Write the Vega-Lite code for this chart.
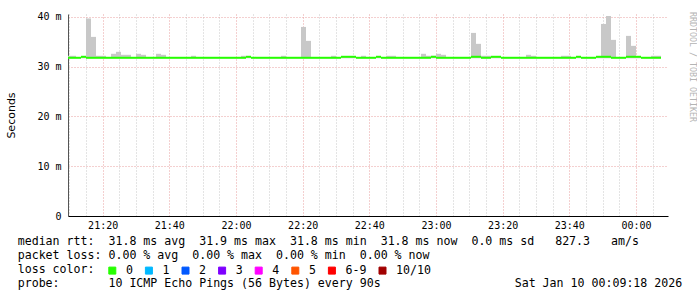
{
  "$schema": "https://vega.github.io/schema/vega-lite/v6.json",
  "width": 600,
  "height": 202,
  "padding": {"left": 5, "top": 11, "right": 0, "bottom": 0},
  "background": "white",
  "title": {"text": "RRDTOOL / TOBI OETIKER", "orient": "right", "anchor": "start", "offset": 6, "font": "DejaVu Sans Mono", "fontSize": 8.3, "fontWeight": "normal", "color": "#b4b4b4"},
  "datasets": {
    "steps": [
      {"t0":"2026-01-09T21:09:00","t1":"2026-01-09T21:10:30","med":31.8,"lo":31.7,"hi":32.2,"loss":"0"},
      {"t0":"2026-01-09T21:10:30","t1":"2026-01-09T21:12:00","med":31.8,"lo":31.7,"hi":32.2,"loss":"0"},
      {"t0":"2026-01-09T21:12:00","t1":"2026-01-09T21:13:30","med":31.8,"lo":31.7,"hi":31.9,"loss":"0"},
      {"t0":"2026-01-09T21:13:30","t1":"2026-01-09T21:15:00","med":32.0,"lo":31.7,"hi":32.1,"loss":"0"},
      {"t0":"2026-01-09T21:15:00","t1":"2026-01-09T21:16:30","med":31.8,"lo":31.7,"hi":39.7,"loss":"0"},
      {"t0":"2026-01-09T21:16:30","t1":"2026-01-09T21:18:00","med":31.8,"lo":31.7,"hi":36.0,"loss":"0"},
      {"t0":"2026-01-09T21:18:00","t1":"2026-01-09T21:19:30","med":31.8,"lo":31.7,"hi":32.2,"loss":"0"},
      {"t0":"2026-01-09T21:19:30","t1":"2026-01-09T21:21:00","med":31.8,"lo":31.7,"hi":32.2,"loss":"0"},
      {"t0":"2026-01-09T21:21:00","t1":"2026-01-09T21:22:30","med":31.8,"lo":31.7,"hi":31.9,"loss":"0"},
      {"t0":"2026-01-09T21:22:30","t1":"2026-01-09T21:24:00","med":31.8,"lo":31.7,"hi":32.6,"loss":"0"},
      {"t0":"2026-01-09T21:24:00","t1":"2026-01-09T21:25:30","med":31.8,"lo":31.7,"hi":33.0,"loss":"0"},
      {"t0":"2026-01-09T21:25:30","t1":"2026-01-09T21:27:00","med":31.8,"lo":31.7,"hi":32.4,"loss":"0"},
      {"t0":"2026-01-09T21:27:00","t1":"2026-01-09T21:28:30","med":31.8,"lo":31.7,"hi":32.4,"loss":"0"},
      {"t0":"2026-01-09T21:28:30","t1":"2026-01-09T21:30:00","med":31.8,"lo":31.7,"hi":31.9,"loss":"0"},
      {"t0":"2026-01-09T21:30:00","t1":"2026-01-09T21:31:30","med":31.8,"lo":31.7,"hi":32.6,"loss":"0"},
      {"t0":"2026-01-09T21:31:30","t1":"2026-01-09T21:33:00","med":31.8,"lo":31.7,"hi":32.4,"loss":"0"},
      {"t0":"2026-01-09T21:33:00","t1":"2026-01-09T21:34:30","med":31.8,"lo":31.7,"hi":31.9,"loss":"0"},
      {"t0":"2026-01-09T21:34:30","t1":"2026-01-09T21:36:00","med":31.8,"lo":31.7,"hi":31.9,"loss":"0"},
      {"t0":"2026-01-09T21:36:00","t1":"2026-01-09T21:37:30","med":31.8,"lo":31.7,"hi":32.6,"loss":"0"},
      {"t0":"2026-01-09T21:37:30","t1":"2026-01-09T21:39:00","med":31.8,"lo":31.7,"hi":32.4,"loss":"0"},
      {"t0":"2026-01-09T21:39:00","t1":"2026-01-09T21:40:30","med":31.8,"lo":31.7,"hi":31.9,"loss":"0"},
      {"t0":"2026-01-09T21:40:30","t1":"2026-01-09T21:42:00","med":31.8,"lo":31.7,"hi":31.9,"loss":"0"},
      {"t0":"2026-01-09T21:42:00","t1":"2026-01-09T21:43:30","med":31.8,"lo":31.7,"hi":31.9,"loss":"0"},
      {"t0":"2026-01-09T21:43:30","t1":"2026-01-09T21:45:00","med":31.8,"lo":31.7,"hi":31.9,"loss":"0"},
      {"t0":"2026-01-09T21:45:00","t1":"2026-01-09T21:46:30","med":31.8,"lo":31.7,"hi":31.9,"loss":"0"},
      {"t0":"2026-01-09T21:46:30","t1":"2026-01-09T21:48:00","med":31.8,"lo":31.7,"hi":32.2,"loss":"0"},
      {"t0":"2026-01-09T21:48:00","t1":"2026-01-09T21:49:30","med":31.8,"lo":31.7,"hi":31.9,"loss":"0"},
      {"t0":"2026-01-09T21:49:30","t1":"2026-01-09T21:51:00","med":31.8,"lo":31.7,"hi":31.9,"loss":"0"},
      {"t0":"2026-01-09T21:51:00","t1":"2026-01-09T21:52:30","med":31.8,"lo":31.7,"hi":31.9,"loss":"0"},
      {"t0":"2026-01-09T21:52:30","t1":"2026-01-09T21:54:00","med":31.8,"lo":31.7,"hi":31.9,"loss":"0"},
      {"t0":"2026-01-09T21:54:00","t1":"2026-01-09T21:55:30","med":31.8,"lo":31.7,"hi":31.9,"loss":"0"},
      {"t0":"2026-01-09T21:55:30","t1":"2026-01-09T21:57:00","med":31.8,"lo":31.7,"hi":31.9,"loss":"0"},
      {"t0":"2026-01-09T21:57:00","t1":"2026-01-09T21:58:30","med":31.8,"lo":31.7,"hi":31.9,"loss":"0"},
      {"t0":"2026-01-09T21:58:30","t1":"2026-01-09T22:00:00","med":31.8,"lo":31.7,"hi":31.9,"loss":"0"},
      {"t0":"2026-01-09T22:00:00","t1":"2026-01-09T22:01:30","med":31.8,"lo":31.7,"hi":31.9,"loss":"0"},
      {"t0":"2026-01-09T22:01:30","t1":"2026-01-09T22:03:00","med":31.8,"lo":31.7,"hi":32.2,"loss":"0"},
      {"t0":"2026-01-09T22:03:00","t1":"2026-01-09T22:04:30","med":32.0,"lo":31.7,"hi":32.0,"loss":"0"},
      {"t0":"2026-01-09T22:04:30","t1":"2026-01-09T22:06:00","med":31.8,"lo":31.7,"hi":31.9,"loss":"0"},
      {"t0":"2026-01-09T22:06:00","t1":"2026-01-09T22:07:30","med":31.8,"lo":31.7,"hi":31.9,"loss":"0"},
      {"t0":"2026-01-09T22:07:30","t1":"2026-01-09T22:09:00","med":31.8,"lo":31.7,"hi":31.9,"loss":"0"},
      {"t0":"2026-01-09T22:09:00","t1":"2026-01-09T22:10:30","med":31.8,"lo":31.7,"hi":31.9,"loss":"0"},
      {"t0":"2026-01-09T22:10:30","t1":"2026-01-09T22:12:00","med":31.8,"lo":31.7,"hi":31.9,"loss":"0"},
      {"t0":"2026-01-09T22:12:00","t1":"2026-01-09T22:13:30","med":31.8,"lo":31.7,"hi":31.9,"loss":"0"},
      {"t0":"2026-01-09T22:13:30","t1":"2026-01-09T22:15:00","med":31.8,"lo":31.7,"hi":32.2,"loss":"0"},
      {"t0":"2026-01-09T22:15:00","t1":"2026-01-09T22:16:30","med":31.8,"lo":31.7,"hi":31.9,"loss":"0"},
      {"t0":"2026-01-09T22:16:30","t1":"2026-01-09T22:18:00","med":31.8,"lo":31.7,"hi":31.9,"loss":"0"},
      {"t0":"2026-01-09T22:18:00","t1":"2026-01-09T22:19:30","med":31.8,"lo":31.7,"hi":31.9,"loss":"0"},
      {"t0":"2026-01-09T22:19:30","t1":"2026-01-09T22:21:00","med":31.8,"lo":31.7,"hi":38.0,"loss":"0"},
      {"t0":"2026-01-09T22:21:00","t1":"2026-01-09T22:22:30","med":31.8,"lo":31.7,"hi":35.2,"loss":"0"},
      {"t0":"2026-01-09T22:22:30","t1":"2026-01-09T22:24:00","med":31.8,"lo":31.7,"hi":31.9,"loss":"0"},
      {"t0":"2026-01-09T22:24:00","t1":"2026-01-09T22:25:30","med":31.8,"lo":31.7,"hi":31.9,"loss":"0"},
      {"t0":"2026-01-09T22:25:30","t1":"2026-01-09T22:27:00","med":31.8,"lo":31.7,"hi":31.9,"loss":"0"},
      {"t0":"2026-01-09T22:27:00","t1":"2026-01-09T22:28:30","med":31.8,"lo":31.7,"hi":31.9,"loss":"0"},
      {"t0":"2026-01-09T22:28:30","t1":"2026-01-09T22:30:00","med":31.8,"lo":31.7,"hi":32.2,"loss":"0"},
      {"t0":"2026-01-09T22:30:00","t1":"2026-01-09T22:31:30","med":31.8,"lo":31.7,"hi":31.9,"loss":"0"},
      {"t0":"2026-01-09T22:31:30","t1":"2026-01-09T22:33:00","med":32.0,"lo":31.7,"hi":32.0,"loss":"0"},
      {"t0":"2026-01-09T22:33:00","t1":"2026-01-09T22:34:30","med":32.0,"lo":31.7,"hi":32.0,"loss":"0"},
      {"t0":"2026-01-09T22:34:30","t1":"2026-01-09T22:36:00","med":32.0,"lo":31.7,"hi":32.0,"loss":"0"},
      {"t0":"2026-01-09T22:36:00","t1":"2026-01-09T22:37:30","med":31.8,"lo":31.7,"hi":31.9,"loss":"0"},
      {"t0":"2026-01-09T22:37:30","t1":"2026-01-09T22:39:00","med":31.8,"lo":31.7,"hi":32.2,"loss":"0"},
      {"t0":"2026-01-09T22:39:00","t1":"2026-01-09T22:40:30","med":31.8,"lo":31.7,"hi":31.9,"loss":"0"},
      {"t0":"2026-01-09T22:40:30","t1":"2026-01-09T22:42:00","med":31.8,"lo":31.7,"hi":31.9,"loss":"0"},
      {"t0":"2026-01-09T22:42:00","t1":"2026-01-09T22:43:30","med":32.0,"lo":31.7,"hi":32.0,"loss":"0"},
      {"t0":"2026-01-09T22:43:30","t1":"2026-01-09T22:45:00","med":31.8,"lo":31.7,"hi":31.9,"loss":"0"},
      {"t0":"2026-01-09T22:45:00","t1":"2026-01-09T22:46:30","med":31.8,"lo":31.7,"hi":32.2,"loss":"0"},
      {"t0":"2026-01-09T22:46:30","t1":"2026-01-09T22:48:00","med":31.8,"lo":31.7,"hi":32.2,"loss":"0"},
      {"t0":"2026-01-09T22:48:00","t1":"2026-01-09T22:49:30","med":31.8,"lo":31.7,"hi":31.9,"loss":"0"},
      {"t0":"2026-01-09T22:49:30","t1":"2026-01-09T22:51:00","med":31.8,"lo":31.7,"hi":31.9,"loss":"0"},
      {"t0":"2026-01-09T22:51:00","t1":"2026-01-09T22:52:30","med":31.8,"lo":31.7,"hi":31.9,"loss":"0"},
      {"t0":"2026-01-09T22:52:30","t1":"2026-01-09T22:54:00","med":31.8,"lo":31.7,"hi":31.9,"loss":"0"},
      {"t0":"2026-01-09T22:54:00","t1":"2026-01-09T22:55:30","med":31.8,"lo":31.7,"hi":31.9,"loss":"0"},
      {"t0":"2026-01-09T22:55:30","t1":"2026-01-09T22:57:00","med":31.8,"lo":31.7,"hi":32.6,"loss":"0"},
      {"t0":"2026-01-09T22:57:00","t1":"2026-01-09T22:58:30","med":31.8,"lo":31.7,"hi":32.2,"loss":"0"},
      {"t0":"2026-01-09T22:58:30","t1":"2026-01-09T23:00:00","med":32.0,"lo":31.7,"hi":32.2,"loss":"0"},
      {"t0":"2026-01-09T23:00:00","t1":"2026-01-09T23:01:30","med":31.8,"lo":31.7,"hi":32.6,"loss":"0"},
      {"t0":"2026-01-09T23:01:30","t1":"2026-01-09T23:03:00","med":31.8,"lo":31.7,"hi":32.4,"loss":"0"},
      {"t0":"2026-01-09T23:03:00","t1":"2026-01-09T23:04:30","med":31.8,"lo":31.7,"hi":31.9,"loss":"0"},
      {"t0":"2026-01-09T23:04:30","t1":"2026-01-09T23:06:00","med":31.8,"lo":31.7,"hi":31.9,"loss":"0"},
      {"t0":"2026-01-09T23:06:00","t1":"2026-01-09T23:07:30","med":31.8,"lo":31.7,"hi":31.9,"loss":"0"},
      {"t0":"2026-01-09T23:07:30","t1":"2026-01-09T23:09:00","med":31.8,"lo":31.7,"hi":31.9,"loss":"0"},
      {"t0":"2026-01-09T23:09:00","t1":"2026-01-09T23:10:30","med":31.8,"lo":31.7,"hi":31.9,"loss":"0"},
      {"t0":"2026-01-09T23:10:30","t1":"2026-01-09T23:12:00","med":32.0,"lo":31.7,"hi":36.8,"loss":"0"},
      {"t0":"2026-01-09T23:12:00","t1":"2026-01-09T23:13:30","med":32.0,"lo":31.7,"hi":34.6,"loss":"0"},
      {"t0":"2026-01-09T23:13:30","t1":"2026-01-09T23:15:00","med":31.8,"lo":31.7,"hi":32.2,"loss":"0"},
      {"t0":"2026-01-09T23:15:00","t1":"2026-01-09T23:16:30","med":31.8,"lo":31.7,"hi":32.2,"loss":"0"},
      {"t0":"2026-01-09T23:16:30","t1":"2026-01-09T23:18:00","med":32.0,"lo":31.7,"hi":32.0,"loss":"0"},
      {"t0":"2026-01-09T23:18:00","t1":"2026-01-09T23:19:30","med":32.0,"lo":31.7,"hi":32.0,"loss":"0"},
      {"t0":"2026-01-09T23:19:30","t1":"2026-01-09T23:21:00","med":31.8,"lo":31.7,"hi":31.9,"loss":"0"},
      {"t0":"2026-01-09T23:21:00","t1":"2026-01-09T23:22:30","med":31.8,"lo":31.7,"hi":31.9,"loss":"0"},
      {"t0":"2026-01-09T23:22:30","t1":"2026-01-09T23:24:00","med":31.8,"lo":31.7,"hi":31.9,"loss":"0"},
      {"t0":"2026-01-09T23:24:00","t1":"2026-01-09T23:25:30","med":31.8,"lo":31.7,"hi":31.9,"loss":"0"},
      {"t0":"2026-01-09T23:25:30","t1":"2026-01-09T23:27:00","med":31.8,"lo":31.7,"hi":31.9,"loss":"0"},
      {"t0":"2026-01-09T23:27:00","t1":"2026-01-09T23:28:30","med":31.8,"lo":31.7,"hi":32.4,"loss":"0"},
      {"t0":"2026-01-09T23:28:30","t1":"2026-01-09T23:30:00","med":31.8,"lo":31.7,"hi":32.2,"loss":"0"},
      {"t0":"2026-01-09T23:30:00","t1":"2026-01-09T23:31:30","med":31.8,"lo":31.7,"hi":31.9,"loss":"0"},
      {"t0":"2026-01-09T23:31:30","t1":"2026-01-09T23:33:00","med":31.8,"lo":31.7,"hi":31.9,"loss":"0"},
      {"t0":"2026-01-09T23:33:00","t1":"2026-01-09T23:34:30","med":31.8,"lo":31.7,"hi":31.9,"loss":"0"},
      {"t0":"2026-01-09T23:34:30","t1":"2026-01-09T23:36:00","med":31.8,"lo":31.7,"hi":31.9,"loss":"0"},
      {"t0":"2026-01-09T23:36:00","t1":"2026-01-09T23:37:30","med":31.8,"lo":31.7,"hi":31.9,"loss":"0"},
      {"t0":"2026-01-09T23:37:30","t1":"2026-01-09T23:39:00","med":31.8,"lo":31.7,"hi":32.2,"loss":"0"},
      {"t0":"2026-01-09T23:39:00","t1":"2026-01-09T23:40:30","med":31.8,"lo":31.7,"hi":32.2,"loss":"0"},
      {"t0":"2026-01-09T23:40:30","t1":"2026-01-09T23:42:00","med":31.8,"lo":31.7,"hi":31.9,"loss":"0"},
      {"t0":"2026-01-09T23:42:00","t1":"2026-01-09T23:43:30","med":32.0,"lo":31.7,"hi":32.0,"loss":"0"},
      {"t0":"2026-01-09T23:43:30","t1":"2026-01-09T23:45:00","med":31.8,"lo":31.7,"hi":31.9,"loss":"0"},
      {"t0":"2026-01-09T23:45:00","t1":"2026-01-09T23:46:30","med":31.8,"lo":31.7,"hi":31.9,"loss":"0"},
      {"t0":"2026-01-09T23:46:30","t1":"2026-01-09T23:48:00","med":31.8,"lo":31.7,"hi":31.9,"loss":"0"},
      {"t0":"2026-01-09T23:48:00","t1":"2026-01-09T23:49:30","med":32.0,"lo":31.7,"hi":32.1,"loss":"0"},
      {"t0":"2026-01-09T23:49:30","t1":"2026-01-09T23:51:00","med":32.0,"lo":31.7,"hi":38.6,"loss":"0"},
      {"t0":"2026-01-09T23:51:00","t1":"2026-01-09T23:52:30","med":32.0,"lo":31.7,"hi":40.2,"loss":"0"},
      {"t0":"2026-01-09T23:52:30","t1":"2026-01-09T23:54:00","med":31.8,"lo":31.7,"hi":35.4,"loss":"0"},
      {"t0":"2026-01-09T23:54:00","t1":"2026-01-09T23:55:30","med":31.8,"lo":31.7,"hi":31.9,"loss":"0"},
      {"t0":"2026-01-09T23:55:30","t1":"2026-01-09T23:57:00","med":31.8,"lo":31.7,"hi":31.9,"loss":"0"},
      {"t0":"2026-01-09T23:57:00","t1":"2026-01-09T23:58:30","med":32.0,"lo":31.7,"hi":36.2,"loss":"0"},
      {"t0":"2026-01-09T23:58:30","t1":"2026-01-10T00:00:00","med":32.0,"lo":31.7,"hi":34.2,"loss":"0"},
      {"t0":"2026-01-10T00:00:00","t1":"2026-01-10T00:01:30","med":32.0,"lo":31.7,"hi":32.0,"loss":"0"},
      {"t0":"2026-01-10T00:01:30","t1":"2026-01-10T00:03:00","med":31.8,"lo":31.7,"hi":31.9,"loss":"0"},
      {"t0":"2026-01-10T00:03:00","t1":"2026-01-10T00:04:30","med":31.8,"lo":31.7,"hi":31.9,"loss":"0"},
      {"t0":"2026-01-10T00:04:30","t1":"2026-01-10T00:06:00","med":31.8,"lo":31.7,"hi":32.2,"loss":"0"},
      {"t0":"2026-01-10T00:06:00","t1":"2026-01-10T00:07:30","med":31.8,"lo":31.7,"hi":32.2,"loss":"0"}
    ],
    "notes": [
      {"row": 1, "col": 0, "text": "median\u00a0rtt:\u00a0\u00a031.8\u00a0ms\u00a0avg\u00a0\u00a031.9\u00a0ms\u00a0max\u00a0\u00a031.8\u00a0ms\u00a0min\u00a0\u00a031.8\u00a0ms\u00a0now\u00a0\u00a00.0\u00a0ms\u00a0sd\u00a0\u00a0\u00a0827.3\u00a0\u00a0\u00a0am/s"},
      {"row": 2, "col": 0, "text": "packet\u00a0loss:\u00a00.00\u00a0%\u00a0avg\u00a0\u00a00.00\u00a0%\u00a0max\u00a0\u00a00.00\u00a0%\u00a0min\u00a0\u00a00.00\u00a0%\u00a0now"},
      {"row": 3, "col": 0, "text": "loss\u00a0color:"},
      {"row": 4, "col": 0, "text": "probe:\u00a0\u00a0\u00a0\u00a0\u00a0\u00a0\u00a010\u00a0ICMP\u00a0Echo\u00a0Pings\u00a0(56\u00a0Bytes)\u00a0every\u00a090s"},
      {"row": 4, "col": 71, "text": "Sat\u00a0Jan\u00a010\u00a000:09:18\u00a02026"}
    ]
  },
  "layer": [
    {
      "data": {"name": "steps"},
      "layer": [
        {
          "mark": {"type": "rect", "color": "#c8c8c8", "clip": true},
          "encoding": {
            "x": {
              "field": "t0", "type": "temporal",
              "scale": {"domain": ["2026-01-09T21:09:36", "2026-01-10T00:09:36"], "nice": false},
              "axis": {
                "title": null,
                "tickCount": 36,
                "labelExpr": "minutes(datum.value) % 20 == 0 ? timeFormat(datum.value, '%H:%M') : ''",
                "labelOverlap": false,
                "labelFlush": false,
                "labelFont": "DejaVu Sans Mono",
                "labelFontSize": 10,
                "labelColor": "#000",
                "labelPadding": 4,
                "ticks": false,
                "gridColor": {"condition": {"test": "minutes(datum.value) % 20 == 0", "value": "#e8a0a0"}, "value": "#c8c8c8"},
                "gridDash": [1, 2],
                "domainColor": "#000"
              }
            },
            "x2": {"field": "t1"},
            "y": {
              "field": "lo", "type": "quantitative",
              "scale": {"domain": [0, 40.6], "nice": false, "zero": false},
              "axis": {
                "title": "Seconds",
                "titleFont": "DejaVu Sans",
                "titleFontSize": 11,
                "titleFontWeight": "normal",
                "titleColor": "#000",
                "titlePadding": 20,
                "values": [0, 10, 20, 30, 40],
                "labelExpr": "datum.value == 0 ? '0' : datum.value + ' m'",
                "labelOverlap": false,
                "labelBound": false,
                "labelFont": "DejaVu Sans Mono",
                "labelFontSize": 10,
                "labelColor": "#000",
                "labelPadding": 7,
                "ticks": false,
                "gridColor": "#e8a0a0",
                "gridDash": [1, 2],
                "domainColor": "#555"
              }
            },
            "y2": {"field": "hi"}
          }
        },
        {
          "mark": {"type": "rule", "strokeWidth": 2, "clip": true},
          "encoding": {
            "x": {"field": "t0", "type": "temporal"},
            "x2": {"field": "t1"},
            "y": {"field": "med", "type": "quantitative"},
            "color": {
              "field": "loss", "type": "nominal",
              "scale": {"domain": ["0", "1", "2", "3", "4", "5", "6-9", "10/10"], "range": ["#26ff00", "#00b8ff", "#0059ff", "#7e00ff", "#ff00ff", "#ff5500", "#ff0000", "#a10000"]},
              "legend": {
                "title": null,
                "orient": "none",
                "legendX": 38.5,
                "legendY": 250.5,
                "direction": "horizontal",
                "labelFont": "DejaVu Sans Mono",
                "labelFontSize": 11.6,
                "labelColor": "#000",
                "labelOffset": 7.8,
                "columnPadding": 9.6,
                "symbolType": "square",
                "symbolSize": 49,
                "padding": 0,
                "encode": {
                  "symbols": {
                    "update": {
                      "fill": {"scale": "color", "field": "value"},
                      "stroke": {"value": "#000"},
                      "strokeWidth": {"value": 1},
                      "opacity": {"value": 1}
                    }
                  }
                }
              }
            }
          }
        }
      ]
    },
    {
      "data": {"name": "notes"},
      "mark": {"type": "text", "align": "left", "baseline": "middle", "font": "DejaVu Sans Mono", "fontSize": 11.6, "color": "#000"},
      "encoding": {
        "x": {"field": "col", "type": "quantitative", "scale": {"domain": [0, 100], "range": [-50.3, 649.7], "nice": false, "zero": false}, "axis": null},
        "y": {"field": "row", "type": "quantitative", "scale": {"domain": [1, 4], "range": [228.3, 270.3], "nice": false, "zero": false}, "axis": null},
        "text": {"field": "text"}
      }
    }
  ],
  "resolve": {"scale": {"x": "independent", "y": "independent"}},
  "config": {"view": {"stroke": null}}
}
